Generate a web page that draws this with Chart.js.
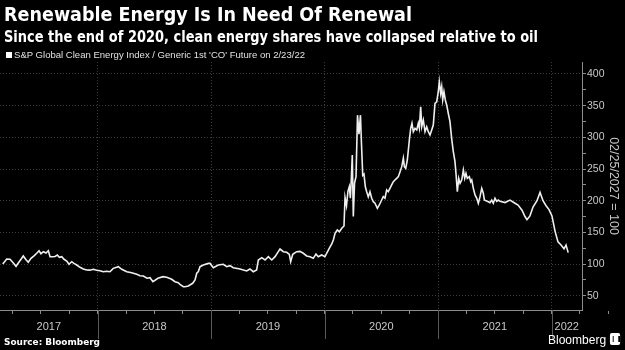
<!DOCTYPE html>
<html>
<head>
<meta charset="utf-8">
<script src="https://cdn.jsdelivr.net/npm/chart.js@4.4.1/dist/chart.umd.min.js"></script>
<style>
  html, body { margin: 0; padding: 0; background: #000; }
  #wrap { position: relative; width: 625px; height: 350px; overflow: hidden; background: #000; }
  #chart { position: absolute; left: 0; top: 0; }
  .txt { position: absolute; white-space: nowrap; transform-origin: left top; }
  #title { left: 4px; top: 4px; color: #fff; font: bold 19px "DejaVu Sans Condensed", "DejaVu Sans", sans-serif; line-height: 20px; }
  #subtitle { left: 4px; top: 29px; color: #fff; font: bold 15px "DejaVu Sans Condensed", "DejaVu Sans", sans-serif; line-height: 16px; }
  #legend { left: 6px; top: 50px; color: #e0e0e0; font: 9.5px "Liberation Sans", Arial, sans-serif; line-height: 10px; }
  #legend i { display: inline-block; width: 6px; height: 6px; background: #fff; margin-right: 2px; vertical-align: 0; }
  #source { left: 4px; top: 336px; color: #fff; font: bold 9.5px "DejaVu Sans Condensed", "DejaVu Sans", sans-serif; line-height: 11px; }
  #logo { left: 548px; top: 332px; color: #fff; font: 13px "Liberation Sans", Arial, sans-serif; line-height: 15px; }
  #logo b { display: inline-block; width: 11px; height: 12px; background: #fff; border-radius: 2px; margin-left: 4px; vertical-align: -1px; position: relative; }
  #logo b::after { content: ""; position: absolute; left: 3px; top: 3px; width: 5px; height: 6px; border-left: 1px solid #000; border-right: 2px solid #000; }
</style>
</head>
<body>
<div id="wrap">
  <canvas id="chart" width="625" height="350"></canvas>
  <div id="title" class="txt">Renewable Energy Is In Need Of Renewal</div>
  <div id="subtitle" class="txt">Since the end of 2020, clean energy shares have collapsed relative to oil</div>
  <div id="legend" class="txt"><i></i>S&amp;P Global Clean Energy Index / Generic 1st 'CO' Future on 2/23/22</div>
  <div id="source" class="txt">Source: Bloomberg</div>
  <div id="logo" class="txt">Bloomberg<b></b></div>
</div>
<script>
// time as decimal years, ratio rebased to 100
const years = [
  2017.163, 2017.198, 2017.227, 2017.251, 2017.280, 2017.300, 2017.321, 2017.344, 2017.368, 2017.388,
  2017.412, 2017.441, 2017.462, 2017.483, 2017.500, 2017.521, 2017.544, 2017.565, 2017.580, 2017.603,
  2017.624, 2017.644, 2017.662, 2017.683, 2017.703, 2017.727, 2017.747, 2017.771, 2017.791, 2017.815,
  2017.844, 2017.873, 2017.903, 2017.932, 2017.961, 2017.991, 2018.020, 2018.049, 2018.079, 2018.108,
  2018.137, 2018.182, 2018.212, 2018.256, 2018.300, 2018.344, 2018.373, 2018.402, 2018.435, 2018.461,
  2018.487, 2018.531, 2018.576, 2018.608, 2018.652, 2018.681, 2018.710, 2018.725, 2018.755, 2018.770,
  2018.799, 2018.837, 2018.858, 2018.873, 2018.887, 2018.902, 2018.931, 2018.975, 2018.990, 2019.019,
  2019.063, 2019.107, 2019.137, 2019.166, 2019.195, 2019.254, 2019.313, 2019.342, 2019.371, 2019.401,
  2019.416, 2019.446, 2019.475, 2019.504, 2019.534, 2019.563, 2019.592, 2019.607, 2019.636, 2019.666,
  2019.689, 2019.701, 2019.719, 2019.754, 2019.783, 2019.812, 2019.842, 2019.871, 2019.900, 2019.924,
  2019.944, 2019.974, 2020.003, 2020.018, 2020.041, 2020.063, 2020.077, 2020.092, 2020.112, 2020.130,
  2020.151, 2020.171, 2020.180, 2020.193, 2020.206, 2020.218, 2020.227, 2020.237, 2020.244, 2020.253,
  2020.264, 2020.277, 2020.290, 2020.303, 2020.316, 2020.325, 2020.336, 2020.347, 2020.359, 2020.371,
  2020.385, 2020.400, 2020.415, 2020.429, 2020.444, 2020.465, 2020.482, 2020.503, 2020.517, 2020.532,
  2020.547, 2020.561, 2020.576, 2020.591, 2020.606, 2020.620, 2020.635, 2020.650, 2020.665, 2020.680,
  2020.694, 2020.703, 2020.715, 2020.729, 2020.747, 2020.759, 2020.770, 2020.782, 2020.797, 2020.812,
  2020.826, 2020.835, 2020.847, 2020.856, 2020.870, 2020.885, 2020.900, 2020.914, 2020.929, 2020.944,
  2020.958, 2020.973, 2020.988, 2021.002, 2021.011, 2021.023, 2021.032, 2021.041, 2021.052, 2021.064,
  2021.076, 2021.090, 2021.105, 2021.120, 2021.134, 2021.149, 2021.158, 2021.170, 2021.182, 2021.194,
  2021.209, 2021.223, 2021.235, 2021.246, 2021.258, 2021.276, 2021.288, 2021.297, 2021.311, 2021.326,
  2021.341, 2021.355, 2021.370, 2021.385, 2021.399, 2021.408, 2021.423, 2021.443, 2021.458, 2021.473,
  2021.487, 2021.502, 2021.517, 2021.531, 2021.546, 2021.590, 2021.634, 2021.678, 2021.705, 2021.740,
  2021.766, 2021.784, 2021.810, 2021.837, 2021.872, 2021.899, 2021.925, 2021.952, 2021.978, 2022.004,
  2022.031, 2022.057, 2022.084, 2022.110, 2022.128, 2022.147
];
const ratio = [
  100, 107.9, 107.5, 102.7, 96.4, 101.6, 106.8, 112.7, 106.8, 102.7,
  109, 113.2, 117, 121, 116.3, 119.5, 117.4, 121, 111.6, 111.6,
  112, 114.3, 110.6, 111.6, 107.5, 104.8, 99.6, 103.7, 101.1, 98.5,
  94.8, 92.2, 90.6, 90.3, 91.7, 90.3, 89.5, 87.9, 88.5, 87.9,
  93.2, 95.8, 91.7, 87.9, 86.3, 83.8, 81.6, 81.1, 77.5, 78.4,
  72.1, 77.5, 80, 79, 75.9, 72, 70.5, 68, 64.2, 64.2,
  65.3, 69.6, 74.8, 85.4, 88, 95.8, 98.5, 101, 101, 94.2,
  98.5, 99.6, 95.8, 97.4, 94.2, 92.2, 89, 92.2, 87.9, 90.6,
  106.4, 110, 106.4, 111.6, 106.4, 111.6, 119.5, 123.7, 119.5, 118.5,
  115.3, 103.7, 115.3, 119.5, 120, 117, 112.7, 111.6, 109, 115.8,
  111.6, 114.3, 111.6, 117, 124.8, 131.6, 138, 148.5, 153.7, 151,
  156.4, 160, 205, 192, 215, 222, 204, 240, 272, 175,
  228, 238, 335, 305, 335, 290, 240, 242, 222, 214,
  206, 214, 203.8, 198.4, 195.9, 188, 193.2, 201.1, 206.3, 203.8,
  216.9, 214.2, 219.5, 224.8, 230, 232.7, 235.3, 237.9, 245.8, 253.7,
  266.9, 253.7, 251.1, 264.2, 295.8, 314.3, 322.2, 308.9, 314.3, 311.6,
  322.2, 314.3, 348.4, 316.8, 327.4, 308.9, 316.8, 308.9, 303.7, 311.6,
  319.5, 353.7, 356, 372, 387.9, 369.5, 380, 359, 372, 359,
  351.1, 338, 324.7, 298, 278, 262, 243.2, 214.2, 235.3, 227.4,
  233, 248.4, 235.3, 243.2, 235.3, 237.9, 230, 232.7, 219.5, 209,
  203.8, 195.9, 206.3, 219.5, 211.7, 201.1, 200, 198.4, 196.8, 201,
  195.9, 203.8, 199, 201, 199, 197, 201, 196, 193, 185,
  175, 170, 176, 190, 200, 213, 200, 192, 186, 176,
  152, 135, 130, 124, 130, 118
];

const yearLabels = ['2017', '2018', '2019', '2020', '2021', '2022'];
const yearStarts = [2017, 2018, 2019, 2020, 2021, 2022];
const quarterTicks = [];
yearStarts.forEach(y => [0, 0.25, 0.5, 0.75].forEach(q => quarterTicks.push(y + q)));
const yTicks = [50, 75, 100, 125, 150, 175, 200, 225, 250, 275, 300, 325, 350, 375, 400];

const axisGrey = '#8c8c8c';
const gridGrey = '#3c3c3c';
const labelGrey = '#c8c8c8';
const tickFont = { family: '"Liberation Sans", Arial, sans-serif', size: 10.5 };

// year labels centred in the visible part of each year + separators under the axis
const yearAxisPlugin = {
  id: 'yearAxis',
  afterDraw(chart) {
    const xs = chart.scales.x;
    const ctx = chart.ctx;
    const bottom = chart.chartArea.bottom;
    ctx.save();
    ctx.font = '11px "Liberation Sans", Arial, sans-serif';
    ctx.fillStyle = labelGrey;
    ctx.textAlign = 'center';
    ctx.textBaseline = 'middle';
    yearStarts.forEach((y, i) => {
      const a = Math.max(y, xs.min);
      const b = Math.min(y + 1, xs.max);
      if (b <= a) return;
      const px = (xs.getPixelForValue(a) + xs.getPixelForValue(b)) / 2;
      ctx.fillText(yearLabels[i], px, bottom + 17);
      if (y > xs.min) {
        const sx = Math.round(xs.getPixelForValue(y)) + 0.5;
        ctx.strokeStyle = '#5a5a5a';
        ctx.lineWidth = 1;
        ctx.beginPath();
        ctx.moveTo(sx, bottom);
        ctx.lineTo(sx, bottom + 29);
        ctx.stroke();
      }
    });
    ctx.restore();
  }
};

new Chart(document.getElementById('chart'), {
  type: 'line',
  data: {
    datasets: [{
      data: years.map((t, i) => ({ x: t, y: ratio[i] })),
      borderColor: '#efefef',
      borderWidth: 1.6,
      pointRadius: 0,
      tension: 0,
      fill: false
    }]
  },
  options: {
    responsive: false,
    animation: false,
    layout: { padding: { top: 62, left: 0, right: 0, bottom: 0 } },
    plugins: { legend: { display: false }, tooltip: { enabled: false } },
    scales: {
      x: {
        type: 'linear',
        min: 2017.1388,
        max: 2022.2688,
        afterBuildTicks: s => { s.ticks = quarterTicks.map(v => ({ value: v })); },
        afterFit: s => { s.height = 40; },
        ticks: { display: false },
        grid: {
          color: c => Number.isInteger(c.tick && c.tick.value) ? gridGrey : 'rgba(0,0,0,0)',
          lineWidth: 1,
          drawTicks: true,
          tickLength: 4,
          tickColor: axisGrey,
          tickBorderDash: []
        },
        border: { display: true, color: axisGrey, width: 1, dash: [1, 2] }
      },
      y: {
        position: 'right',
        min: 27.42,
        max: 418.94,
        afterBuildTicks: s => { s.ticks = yTicks.map(v => ({ value: v })); },
        afterFit: s => { s.width = 43; },
        ticks: {
          color: labelGrey,
          font: tickFont,
          padding: 1,
          callback: v => (v % 50 === 0 ? v : '')
        },
        grid: {
          color: c => (c.tick && c.tick.value % 50 === 0) ? gridGrey : 'rgba(0,0,0,0)',
          lineWidth: 1,
          tickLength: 4,
          tickColor: axisGrey,
          tickBorderDash: []
        },
        border: { display: true, color: axisGrey, width: 1, dash: [1, 2] },
        title: {
          display: true,
          text: '02/25/2027 = 100',
          color: labelGrey,
          font: { family: '"Liberation Sans", Arial, sans-serif', size: 12.5 },
          padding: { top: 4, bottom: 0 }
        }
      }
    }
  },
  plugins: [yearAxisPlugin]
});

// stretch header texts to the widths they have in the original
function fitWidth(id, w) {
  const el = document.getElementById(id);
  const r = el.getBoundingClientRect().width;
  if (r > 0) el.style.transform = 'scaleX(' + (w / r) + ')';
}
fitWidth('title', 408);
fitWidth('subtitle', 534);
fitWidth('legend', 299);
fitWidth('source', 96);
fitWidth('logo', 72);
</script>
</body>
</html>
